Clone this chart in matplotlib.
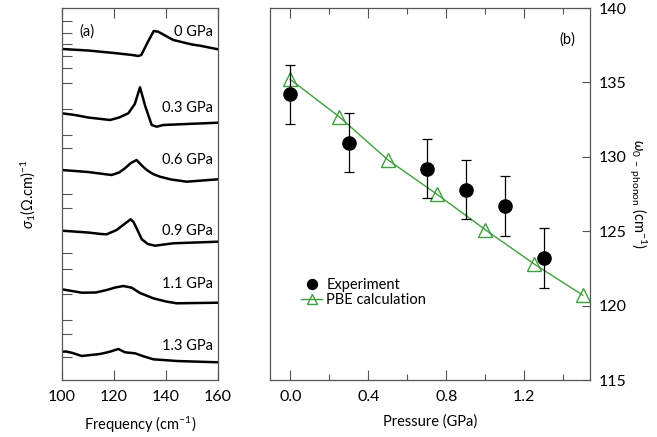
import numpy as np
import matplotlib
matplotlib.use('Agg')
import matplotlib.pyplot as plt

plt.rcParams['font.family'] = ['Lato', 'DejaVu Sans']
plt.rcParams['mathtext.fontset'] = 'custom'
plt.rcParams['mathtext.rm'] = 'Lato'
plt.rcParams['mathtext.it'] = 'Lato:italic'

# panel (a): offset spectra, arbitrary units
f0 = [100, 110, 120, 127, 129.3, 130.5, 133, 135.3, 137, 142.8, 150, 153.1, 160]
s0 = [33.1, 32.95, 32.7, 32.5, 32.4, 32.5, 33.8, 34.9, 34.83, 34.0, 33.55, 33.43, 33.07]
f03 = [100, 105, 110, 118.5, 122, 125.5, 128, 130, 132, 134.5, 136.4, 139, 148, 160]
s03 = [26.67, 26.5, 26.25, 26.0, 26.25, 26.67, 27.6, 29.27, 27.4, 25.5, 25.33, 25.5, 25.6, 25.73]
f06 = [100, 110, 116, 119.1, 122, 124.2, 126.5, 128.7, 130.5, 132.6, 135, 137.7, 142, 148, 160]
s06 = [21.0, 20.8, 20.6, 20.5, 20.75, 21.17, 21.7, 22.0, 21.5, 21.0, 20.6, 20.33, 20.05, 19.83, 20.07]
f09 = [100, 110, 115, 117.2, 121, 124, 126.4, 127.5, 128.7, 130.7, 133, 135.8, 142.8, 160]
s09 = [14.93, 14.75, 14.6, 14.57, 15.0, 15.6, 16.07, 15.8, 15.17, 14.07, 13.6, 13.43, 13.67, 13.83]
f11 = [100, 107.6, 113, 117.2, 120.5, 123.6, 126.8, 130, 135.1, 140, 144.1, 160]
s11 = [9.07, 8.73, 8.75, 9.0, 9.25, 9.4, 9.23, 8.7, 8.17, 7.85, 7.67, 7.73]
f13 = [100, 101.5, 103.7, 107.6, 114.6, 118, 121.7, 124.2, 128.1, 131, 135.1, 144.1, 160]
s13 = [2.83, 2.85, 2.73, 2.4, 2.6, 2.8, 3.1, 2.77, 2.67, 2.4, 2.07, 1.9, 1.77]
spectra = [(f0, s0), (f03, s03), (f06, s06), (f09, s09), (f11, s11), (f13, s13)]
spec_labels = ['0 GPa', '0.3 GPa', '0.6 GPa', '0.9 GPa', '1.1 GPa', '1.3 GPa']
label_y = [34.8, 27.2, 22.0, 14.9, 9.6, 3.43]
left_ticks = [35.93, 34.73, 33.57, 32.4, 31.17, 29.67, 27.07, 24.5, 23.17,
              18.6, 17.25, 12.67, 11.07, 8.6, 6.0, 4.6, 2.33]

# panel (b)
p_exp = [0.0, 0.3, 0.7, 0.9, 1.1, 1.3]
w_exp = [134.2, 130.95, 129.2, 127.8, 126.7, 123.2]
w_err = [2.0, 2.0, 2.0, 2.0, 2.0, 2.0]
p_pbe = [0.0, 0.25, 0.5, 0.75, 1.0, 1.25, 1.5]
w_pbe = [135.2, 132.7, 129.8, 127.5, 125.1, 122.8, 120.7]

green = '#3f9f3f'
spine_c = '#555555'
fs = 10.5

fig = plt.figure(figsize=(6.57, 4.37), dpi=100)
ax1 = fig.add_axes([62/657, 57/437, 156/657, 372/437])
ax2 = fig.add_axes([270/657, 57/437, 320/657, 372/437])

for (f, s) in spectra:
    ax1.plot(f, s, color='black', lw=1.8, solid_joinstyle='round')
for lab, y in zip(spec_labels, label_y):
    ax1.text(158.0, y, lab, ha='right', va='center', fontsize=fs)
ax1.text(106.5, 34.8, '(a)', ha='left', va='center', fontsize=fs)
ax1.set_xlim(100, 160)
ax1.set_ylim(0, 37.2)
ax1.set_xticks([100, 120, 140, 160])
ax1.set_yticks(left_ticks)
ax1.set_yticklabels([])
ax1.tick_params(axis='x', direction='in', top=True, length=7, width=0.8,
                color=spine_c, labelsize=11.5, pad=7)
ax1.tick_params(axis='y', direction='in', left=True, right=False, length=7,
                width=0.8, color=spine_c)
ax1.set_xlabel('Frequency (cm$^{-1}$)', fontsize=fs, labelpad=8)
ax1.set_ylabel(r'$\sigma_1$($\Omega$.cm)$^{-1}$', fontsize=fs, labelpad=14)

ax2.errorbar(p_exp, w_exp, yerr=w_err, fmt='none', ecolor='black',
             elinewidth=0.9, capsize=3.5, capthick=0.9, zorder=3)
ax2.plot(p_exp, w_exp, 'o', color='black', ms=9.5, label='Experiment',
         zorder=4)
ax2.plot(p_pbe, w_pbe, '-^', color=green, mfc='none', mec=green, ms=10,
         mew=1.0, lw=1.0, label='PBE calculation', zorder=2)
ax2.set_xlim(-0.104, 1.537)
ax2.set_ylim(115, 140)
ax2.set_xticks([0.0, 0.4, 0.8, 1.2])
ax2.set_xticks([0.2, 0.6, 1.0, 1.4], minor=True)
ax2.set_yticks([115, 120, 125, 130, 135, 140])
ax2.yaxis.tick_right()
ax2.yaxis.set_label_position('right')
ax2.tick_params(axis='x', which='major', direction='in', top=True, length=7,
                width=0.8, color=spine_c, labelsize=11.5, pad=7)
ax2.tick_params(axis='x', which='minor', direction='in', top=True, length=4,
                width=0.8, color=spine_c)
ax2.tick_params(axis='y', direction='in', left=False, right=True, length=6,
                width=0.8, color=spine_c, labelsize=11.5, pad=6)
ax2.set_xlabel('Pressure (GPa)', fontsize=fs, labelpad=8)
ax2.set_ylabel(r'$\omega_{0\ -\ \mathrm{phonon}}$ (cm$^{-1}$)', fontsize=fs,
               rotation=270, labelpad=16)
ax2.text(0.955, 0.915, '(b)', transform=ax2.transAxes, ha='right', va='center',
         fontsize=fs)
ax2.legend(loc='upper left', bbox_to_anchor=(0.08, 0.29), frameon=False,
           fontsize=fs, handlelength=1.4, handletextpad=0.3, markerscale=0.75,
           labelspacing=0.1, borderaxespad=0)

for ax in (ax1, ax2):
    for sp in ax.spines.values():
        sp.set_color(spine_c)
        sp.set_linewidth(0.9)

fig.savefig('out.png', dpi=100)
